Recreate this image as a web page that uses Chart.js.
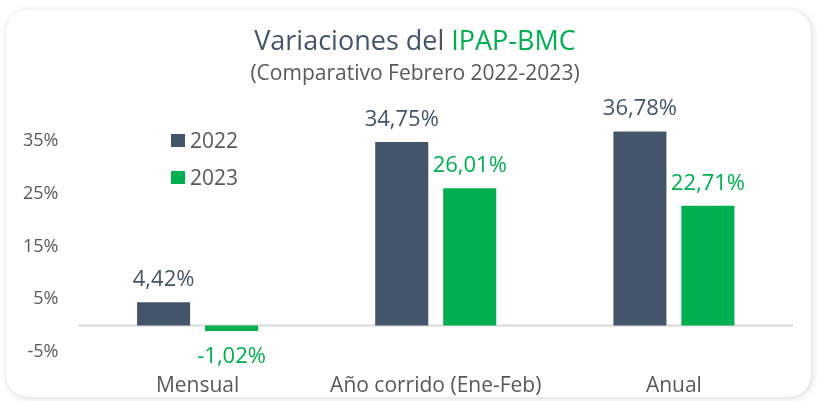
<!DOCTYPE html>
<html>
<head>
<meta charset="utf-8">
<script src="https://cdn.jsdelivr.net/npm/chart.js@4.4.1/dist/chart.umd.min.js"></script>
<style>
  html, body { margin: 0; padding: 0; background: #ffffff; width: 817px; height: 401px; overflow: hidden; }
  #card { position: absolute; left: 6px; top: 10px; width: 805px; height: 387px; border-radius: 22px; background: #fff; box-shadow: 1px 1px 7px rgba(0,0,0,0.17); }
  #wrap { position: absolute; left: 0; top: 0; width: 817px; height: 401px; }
</style>
</head>
<body>
<div id="card"></div>
<div id="wrap"><canvas id="c" width="817" height="401"></canvas></div>
<script>
const categories = ["Mensual", "Año corrido (Ene-Feb)", "Anual"];
const seriesNames = ["2022", "2023"];
const values2022 = [4.42, 34.75, 36.78];
const values2023 = [-1.02, 26.01, 22.71];
const yTicks = [-5, 5, 15, 25, 35];
const titleMain = "Variaciones del ";
const titleAccent = "IPAP-BMC";
const subtitle = "(Comparativo Febrero 2022-2023)";

const DARK = "#44546A";
const GREEN = "#00B050";
const GREY = "#595959";
const FONT = "'Open Sans', sans-serif";

function fmt(v) { return v.toFixed(2).replace('.', ',') + '%'; }

const overlay = {
  id: 'overlay',
  beforeDatasetsDraw(chart) {
    const ctx = chart.ctx, ca = chart.chartArea, y = chart.scales.y;
    const y0 = y.getPixelForValue(0);
    ctx.save();
    ctx.strokeStyle = '#d9d9d9';
    ctx.lineWidth = 2;
    ctx.beginPath();
    ctx.moveTo(ca.left, y0); ctx.lineTo(ca.right, y0);
    ctx.stroke();
    ctx.restore();
  },
  afterDraw(chart) {
    const ctx = chart.ctx;
    ctx.save();
    // Title
    ctx.font = "500 27px " + FONT;
    ctx.textBaseline = 'alphabetic';
    const w1 = ctx.measureText(titleMain).width, w2 = ctx.measureText(titleAccent).width;
    const cx = 415;
    let x = cx - (w1 + w2) / 2;
    ctx.textAlign = 'left';
    ctx.fillStyle = DARK; ctx.fillText(titleMain, x, 50);
    ctx.fillStyle = GREEN; ctx.fillText(titleAccent, x + w1, 50);
    ctx.font = "21px " + FONT;
    ctx.fillStyle = GREY;
    ctx.textAlign = 'center';
    ctx.fillText(subtitle, cx, 80);
    // Legend
    const legColors = [DARK, GREEN];
    const legY = [141, 178];
    ctx.font = "21px " + FONT;
    ctx.textAlign = 'left';
    ctx.textBaseline = 'middle';
    chart.data.datasets.forEach((ds, i) => {
      ctx.fillStyle = legColors[i];
      ctx.fillRect(171, legY[i] - 7, 14, 13);
      ctx.fillStyle = GREY;
      ctx.fillText(ds.label, 190, legY[i] + 1);
    });
    // Data labels
    ctx.font = "500 22px " + FONT;
    ctx.textAlign = 'center';
    chart.data.datasets.forEach((ds, i) => {
      const meta = chart.getDatasetMeta(i);
      meta.data.forEach((bar, j) => {
        const v = ds.data[j];
        ctx.fillStyle = legColors[i];
        if (v >= 0) {
          ctx.textBaseline = 'alphabetic';
          ctx.fillText(fmt(v), bar.x, bar.y - 16);
        } else {
          ctx.textBaseline = 'top';
          ctx.fillText(fmt(v), bar.x, bar.y + 15);
        }
      });
    });
    ctx.restore();
  }
};

new Chart(document.getElementById('c'), {
  type: 'bar',
  data: {
    labels: categories,
    datasets: [
      { label: seriesNames[0], data: values2022, backgroundColor: DARK, categoryPercentage: 0.571, barPercentage: 0.78 },
      { label: seriesNames[1], data: values2023, backgroundColor: GREEN, categoryPercentage: 0.571, barPercentage: 0.78 }
    ]
  },
  options: {
    responsive: false,
    animation: false,
    devicePixelRatio: 1,
    layout: { padding: { top: 88, right: 24, bottom: 0, left: 0 } },
    plugins: { legend: { display: false }, title: { display: false }, tooltip: { enabled: false } },
    scales: {
      x: {
        grid: { display: false, drawTicks: false },
        border: { display: false },
        ticks: { color: GREY, font: { family: FONT, size: 21 }, padding: 21 },
        afterFit(s) { s.height = 49; }
      },
      y: {
        min: -5, max: 45,
        grid: { display: false, drawTicks: false },
        border: { display: false },
        afterBuildTicks(s) { s.ticks = yTicks.map(v => ({ value: v })); },
        ticks: { color: GREY, font: { family: FONT, size: 18 }, padding: 20, callback: v => v + '%' },
        afterFit(s) { s.width = 78.5; }
      }
    }
  },
  plugins: [overlay]
});
</script>
</body>
</html>
